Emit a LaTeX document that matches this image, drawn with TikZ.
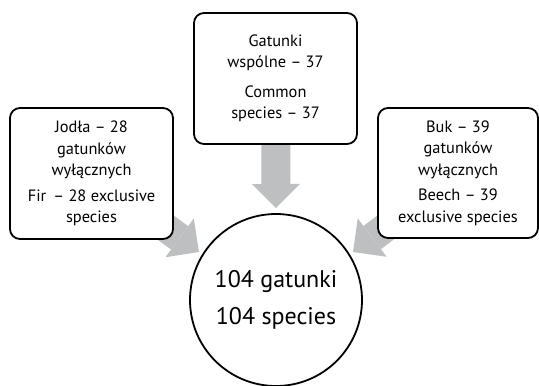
\documentclass[tikz,border=0pt]{standalone}
\usepackage{fontspec}
\setmainfont{PT Sans}
\usetikzlibrary{arrows.meta}
\pgfdeclarelayer{background}
\pgfsetlayers{background,main}
\definecolor{arrowgray}{RGB}{190,191,193}
\tikzset{
  box/.style={draw=black, line width=1.8pt, rounded corners=10pt, fill=white,
    align=center, inner sep=0pt, font=\fontsize{16.4}{21.5}\selectfont},
  total/.style={draw=black, line width=1.8pt, circle, fill=white,
    align=center, inner sep=0pt, minimum size=172pt, font=\fontsize{24}{37}\selectfont},
  bigarrow/.style={draw=arrowgray, line width=29pt,
    -{Triangle[width=48pt,length=24pt,line width=0pt]}},
}
\begin{document}
\begin{tikzpicture}[x=1pt,y=-1pt]
\useasboundingbox (0,0) rectangle (539,386);
\node[box, minimum width=163pt, minimum height=131pt] (fir) at (91.5,173.5)
  {Jodła – 28\\gatunków\\wyłącznych\\[4pt]Fir\,\ – 28 exclusive\\species};
\node[box, minimum width=163pt, minimum height=131pt] (common) at (275.5,78.5)
  {Gatunki\\wspólne – 37\\[8pt]Common\\species – 37};
\node[box, minimum width=160pt, minimum height=130pt] (beech) at (458,173)
  {Buk – 39\\gatunków\\wyłącznych\\[4pt]Beech – 39\\exclusive species};
\node[total] (all) at (276,300) {104 gatunki\\104 species};
\coordinate (ltip) at (199,252);
\coordinate (mtip) at (276,208);
\coordinate (rtip) at (353,252);
\begin{pgfonlayer}{background}
\draw[bigarrow] (fir.center) -- (ltip);
\draw[bigarrow] (common.center) -- (mtip);
\draw[bigarrow] (beech.center) -- (rtip);
\end{pgfonlayer}
\end{tikzpicture}
\end{document}
